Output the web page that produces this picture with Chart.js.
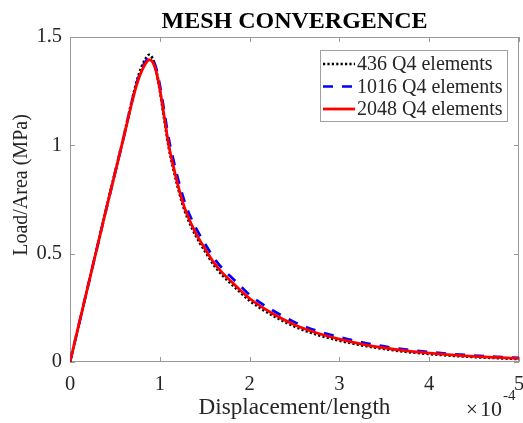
<!DOCTYPE html>
<html>
<head>
<meta charset="utf-8">
<script src="https://cdn.jsdelivr.net/npm/chart.js@4/dist/chart.umd.min.js"></script>
<style>
  html, body { margin: 0; padding: 0; background: #fff; }
</style>
</head>
<body>
<canvas id="chart" width="523" height="423"></canvas>
<script>
// displacement/length in units of 1e-4
const xDisp = [0, 0.1, 0.2, 0.3, 0.4, 0.5, 0.6, 0.7, 0.75, 0.8, 0.85, 0.88, 0.92, 0.96, 1.0, 1.05, 1.1, 1.15, 1.2, 1.25, 1.3, 1.4, 1.5, 1.6, 1.7, 1.8, 1.9, 2.0, 2.25, 2.5, 2.75, 3.0, 3.25, 3.5, 3.75, 4.0, 4.25, 4.5, 4.75, 5.0];

// load/area (MPa) for each mesh
const load436 = [0, 0.175, 0.35, 0.525, 0.70, 0.872, 1.045, 1.225, 1.305, 1.365, 1.405, 1.418, 1.40, 1.345, 1.255, 1.12, 0.99, 0.893, 0.808, 0.733, 0.673, 0.583, 0.513, 0.449, 0.399, 0.359, 0.32, 0.283, 0.216, 0.164, 0.126, 0.099, 0.077, 0.06, 0.047, 0.037, 0.029, 0.023, 0.018, 0.014];
const load1016 = [0, 0.175, 0.35, 0.525, 0.70, 0.871, 1.042, 1.22, 1.297, 1.355, 1.393, 1.405, 1.397, 1.355, 1.28, 1.155, 1.03, 0.935, 0.85, 0.775, 0.712, 0.62, 0.548, 0.482, 0.43, 0.39, 0.35, 0.31, 0.24, 0.184, 0.144, 0.115, 0.091, 0.072, 0.057, 0.046, 0.037, 0.03, 0.024, 0.019];
const load2048 = [0, 0.175, 0.35, 0.525, 0.70, 0.87, 1.04, 1.215, 1.29, 1.345, 1.383, 1.395, 1.385, 1.34, 1.26, 1.13, 1.0, 0.905, 0.82, 0.745, 0.685, 0.595, 0.525, 0.46, 0.41, 0.37, 0.33, 0.293, 0.225, 0.172, 0.134, 0.106, 0.083, 0.065, 0.051, 0.041, 0.033, 0.026, 0.021, 0.017];

const seriesNames = ["436 Q4 elements", "1016 Q4 elements", "2048 Q4 elements"];
const xTicks = [0, 1, 2, 3, 4, 5];
const yTicks = [0, 0.5, 1, 1.5];

const SERIF = "'Liberation Serif', 'Times New Roman', serif";
const TXT = "#262626";

function pts(ys) {
  return ys.map((y, i) => ({ x: xDisp[i], y }));
}

// matlab style box, inward ticks, y label and the x10^-4 multiplier
const axesBox = {
  id: "axesBox",
  beforeDatasetsDraw(chart) {
    const { ctx, chartArea: a, scales } = chart;
    ctx.save();
    ctx.strokeStyle = "#9a9a9a";
    ctx.lineWidth = 1;
    ctx.strokeRect(a.left + 0.5, a.top + 0.5, a.right - a.left - 1, a.bottom - a.top - 1);
    ctx.beginPath();
    xTicks.forEach((v) => {
      const px = Math.round(scales.x.getPixelForValue(v)) + 0.5;
      ctx.moveTo(px, a.bottom); ctx.lineTo(px, a.bottom - 5);
      ctx.moveTo(px, a.top); ctx.lineTo(px, a.top + 5);
    });
    yTicks.forEach((v) => {
      const py = Math.round(scales.y.getPixelForValue(v)) + 0.5;
      ctx.moveTo(a.left, py); ctx.lineTo(a.left + 5, py);
      ctx.moveTo(a.right, py); ctx.lineTo(a.right - 5, py);
    });
    ctx.stroke();
    ctx.restore();
  },
  afterDraw(chart) {
    const { ctx, chartArea: a } = chart;
    ctx.save();
    ctx.fillStyle = TXT;
    ctx.textBaseline = "middle";
    ctx.textAlign = "left";
    ctx.font = "21px " + SERIF;
    ctx.fillText("\u00d7", a.right - 53, 410);
    ctx.font = "22px " + SERIF;
    ctx.fillText("10", a.right - 39, 410);
    ctx.font = "15px " + SERIF;
    ctx.fillText("-4", a.right - 16, 396);
    // y axis title sits a bit below the middle of the axis, as in the original
    ctx.translate(22, 185);
    ctx.rotate(-Math.PI / 2);
    ctx.textAlign = "center";
    ctx.font = "20px " + SERIF;
    ctx.fillText("Load/Area (MPa)", 0, 0);
    ctx.restore();
  },
};

// legend box in the upper right corner
const legendBox = {
  id: "legendBox",
  afterDraw(chart) {
    const { ctx, chartArea: a } = chart;
    const w = 187, h = 71;
    const left = a.right - 12 - w, top = a.top + 13;
    ctx.save();
    ctx.fillStyle = "#fff";
    ctx.fillRect(left, top, w, h);
    ctx.strokeStyle = "#a0a0a0";
    ctx.lineWidth = 1;
    ctx.strokeRect(left + 0.5, top + 0.5, w, h);
    chart.data.datasets.forEach((ds, i) => {
      const y = top + 14 + i * 22.5;
      ctx.beginPath();
      ctx.strokeStyle = ds.borderColor;
      ctx.lineWidth = ds.borderWidth;
      ctx.setLineDash(ds.borderDash || []);
      ctx.moveTo(left + 3, y);
      ctx.lineTo(left + 35, y);
      ctx.stroke();
      ctx.setLineDash([]);
      ctx.fillStyle = TXT;
      ctx.font = "20px " + SERIF;
      ctx.textBaseline = "middle";
      ctx.fillText(ds.label, left + 37, y + 1);
    });
    ctx.restore();
  },
};

new Chart(document.getElementById("chart"), {
  type: "line",
  data: {
    datasets: [
      { label: seriesNames[0], data: pts(load436), borderColor: "#000000", borderWidth: 2.7, borderDash: [2.2, 2.2], order: 3 },
      { label: seriesNames[1], data: pts(load1016), borderColor: "#0000ff", borderWidth: 2.7, borderDash: [10, 9], order: 2 },
      { label: seriesNames[2], data: pts(load2048), borderColor: "#ff0000", borderWidth: 2.8, order: 1 },
    ],
  },
  options: {
    responsive: false,
    animation: false,
    layout: { padding: { left: 0, right: 0, top: 0, bottom: 0 } },
    elements: {
      point: { radius: 0 },
      line: { cubicInterpolationMode: "monotone", fill: false },
    },
    plugins: {
      legend: { display: false },
      tooltip: { enabled: false },
      title: {
        display: true,
        fullSize: false,
        text: "MESH CONVERGENCE",
        color: "#000",
        font: { family: SERIF, size: 24, weight: "bold" },
        padding: { top: 7, bottom: 1.2 },
      },
    },
    scales: {
      x: {
        type: "linear",
        min: 0,
        max: 5,
        afterBuildTicks: (s) => { s.ticks = xTicks.map((v) => ({ value: v })); },
        afterFit: (s) => { s.height = 61; s.paddingLeft = 0; s.paddingRight = 4; },
        grid: { display: false, drawTicks: false },
        border: { display: false },
        ticks: { color: TXT, font: { family: SERIF, size: 20.5 }, padding: 10, maxRotation: 0 },
        title: { display: true, text: "Displacement/length", color: TXT, font: { family: SERIF, size: 23.2 }, padding: { top: 0, bottom: 1 } },
      },
      y: {
        type: "linear",
        min: 0,
        max: 1.5,
        afterBuildTicks: (s) => { s.ticks = yTicks.map((v) => ({ value: v })); },
        afterFit: (s) => { s.width = 70; s.paddingTop = 0; s.paddingBottom = 0; },
        grid: { display: false, drawTicks: false },
        border: { display: false },
        ticks: { color: TXT, font: { family: SERIF, size: 20.5 }, padding: 8, callback: (v) => String(v) },
        title: { display: false },
      },
    },
  },
  plugins: [axesBox, legendBox],
});
</script>
</body>
</html>
